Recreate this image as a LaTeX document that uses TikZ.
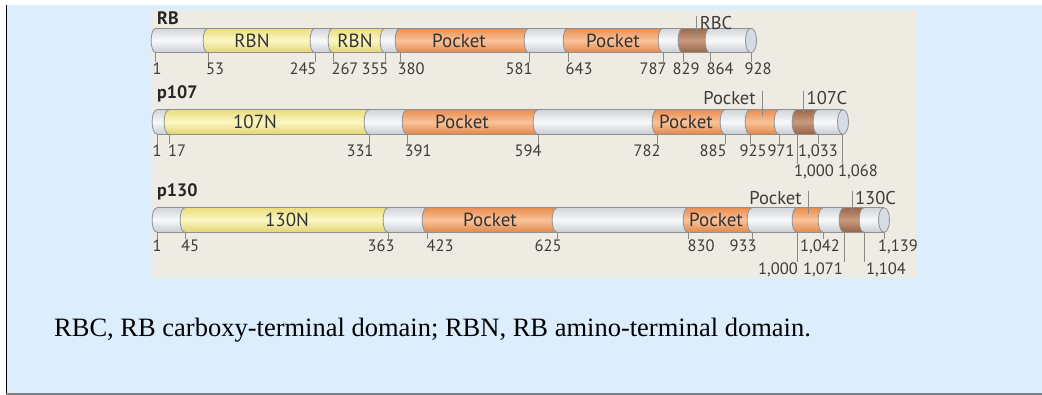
\documentclass[tikz,border=0pt]{standalone}
\usepackage{fontspec}
\setmainfont{Liberation Serif}
\newfontfamily\ptsans{PT Sans}
\definecolor{bgblue}{HTML}{DCEDFD}
\definecolor{beige}{HTML}{EEEBE3}
\definecolor{bordc}{HTML}{8E9094}
\definecolor{tickc}{HTML}{8A8A8A}
\definecolor{numc}{HTML}{3C3C3C}
\definecolor{dlabc}{HTML}{333333}
\definecolor{capc}{HTML}{D5DCE4}
\definecolor{wT}{HTML}{D2D5D9}\definecolor{wM}{HTML}{F8F9FA}\definecolor{wB}{HTML}{C8CCD1}
\definecolor{yT}{HTML}{EADD7C}\definecolor{yM}{HTML}{FCF7C4}\definecolor{yB}{HTML}{E2D372}
\definecolor{oT}{HTML}{EA8E50}\definecolor{oM}{HTML}{F9C29A}\definecolor{oB}{HTML}{E2884A}
\definecolor{bT}{HTML}{9E684A}\definecolor{bM}{HTML}{C99A7E}\definecolor{bB}{HTML}{966244}
\newcommand{\seg}[4]{%
  \path[#1] (#2,#4-12.25) .. controls (#2-6.5,#4-12.25) and (#2-6.5,#4+12.25) .. (#2,#4+12.25) -- (#3,#4+12.25) -- (#3,#4-12.25) -- cycle;
  \draw[outl] (#2,#4-12.25) .. controls (#2-6.5,#4-12.25) and (#2-6.5,#4+12.25) .. (#2,#4+12.25);}
\newcommand{\cylends}[3]{%
  \draw[outl] (#1,#3-12.25) -- (#2,#3-12.25);
  \draw[outl] (#1,#3+12.25) -- (#2,#3+12.25);
  \draw[outl, fill=capc] (#2,#3) ellipse [x radius=5.5, y radius=12.25];}
% name, tick x, label x, baseline, bar bottom, text
\newcommand{\nlab}[6]{%
  \node[num] (#1) at (#3,#4) {#6};
  \draw[tick] (#2,#5) -- (#2,0 |- #1.north);}
\begin{document}
\begin{tikzpicture}[x=1pt,y=-1pt,
  outl/.style={draw=bordc, line width=0.8pt},
  tick/.style={draw=tickc, line width=0.7pt},
  segW/.style={top color=wT, bottom color=wB, middle color=wM},
  segY/.style={top color=yT, bottom color=yB, middle color=yM},
  segO/.style={top color=oT, bottom color=oB, middle color=oM},
  segB/.style={top color=bT, bottom color=bB, middle color=bM},
  num/.style={font=\ptsans\fontsize{16.5}{19}\selectfont, text=numc, inner sep=1pt, anchor=base},
  dlab/.style={font=\ptsans\fontsize{19}{21}\selectfont, text=dlabc, inner sep=0pt, anchor=base},
  uplab/.style={font=\ptsans\fontsize{18.5}{21}\selectfont, text=numc, inner sep=1pt, anchor=base},
  rowlab/.style={font=\ptsans\bfseries\fontsize{18}{20}\selectfont, text=black!85, inner sep=0pt, anchor=base west},
]
\useasboundingbox (0,0) rectangle (1042,395);
% frame
\fill[white] (0,0) rectangle (1042,395);
\fill[bgblue] (6,5) rectangle (1042,395);
\draw[black, line width=1.3pt] (6.4,5) -- (6.4,395);
\draw[black!50, line width=1.5pt] (6,394.2) -- (1042,394.2);
\fill[beige] (152,10) rectangle (918,278);

% ---------------- RB ----------------
\node[rowlab] (rbname) at (157,25) {RB};
\seg{segW}{156}{208}{40.5}
\seg{segY}{208}{315}{40.5}
\seg{segW}{315}{333}{40.5}
\seg{segY}{333}{385}{40.5}
\seg{segW}{385}{400}{40.5}
\seg{segO}{400}{529}{40.5}
\seg{segW}{529}{568}{40.5}
\seg{segO}{568}{663}{40.5}
\seg{segW}{663}{683}{40.5}
\seg{segB}{683}{710}{40.5}
\seg{segW}{710}{751}{40.5}
\cylends{156}{751}{40.5}
\node[dlab] (rbn1) at (252,47.5) {RBN};
\node[dlab] (rbn2) at (355,47.5) {RBN};
\node[dlab] (rbp1) at (459,47.5) {Pocket};
\node[dlab] (rbp2) at (613,47.5) {Pocket};
\node[uplab] (rbc) at (716,30) {RBC};
\draw[tick] (696,0 |- rbc.north) -- (696,37);
\nlab{a1}{155}{157}{75}{52.75}{1}
\nlab{a2}{208}{215}{75}{52.75}{53}
\nlab{a3}{315}{303}{75}{52.75}{245}
\nlab{a4}{333}{345}{75}{52.75}{267}
\nlab{a5}{385}{375}{75}{52.75}{355}
\nlab{a6}{400}{411}{75}{52.75}{380}
\nlab{a7}{529}{519}{75}{52.75}{581}
\nlab{a8}{568}{579}{75}{52.75}{643}
\nlab{a9}{663}{653}{75}{52.75}{787}
\nlab{a10}{683}{686}{75}{52.75}{829}
\nlab{a11}{710}{720}{75}{52.75}{864}
\nlab{a12}{751}{758}{75}{52.75}{928}

% ---------------- p107 ----------------
\node[rowlab] (p107name) at (157,99) {p107};
\seg{segW}{157}{169}{122}
\seg{segY}{169}{369}{122}
\seg{segW}{369}{407}{122}
\seg{segO}{407}{538}{122}
\seg{segW}{538}{657}{122}
\seg{segO}{657}{725}{122}
\seg{segW}{725}{750}{122}
\seg{segO}{750}{779}{122}
\seg{segW}{779}{797}{122}
\seg{segB}{797}{818}{122}
\seg{segW}{818}{843}{122}
\cylends{157}{843}{122}
\node[dlab] (n107) at (255,129) {107N};
\node[dlab] (bp1) at (462,129) {Pocket};
\node[dlab] (bp2) at (686,129) {Pocket};
\node[uplab] (bp3) at (729.5,105) {Pocket};
\draw[tick] (762,0 |- bp3.north) -- (762,116);
\node[uplab] (c107) at (827,105) {107C};
\draw[tick] (803,0 |- c107.north) -- (803,118);
\nlab{b1}{157}{157}{157}{134.25}{1}
\nlab{b2}{169}{177}{157}{134.25}{17}
\nlab{b3}{369}{360}{157}{134.25}{331}
\nlab{b4}{407}{418}{157}{134.25}{391}
\nlab{b5}{538}{528}{157}{134.25}{594}
\nlab{b6}{657}{647}{157}{134.25}{782}
\nlab{b7}{725}{713}{157}{134.25}{885}
\nlab{b8}{750}{753}{157}{134.25}{925}
\nlab{b9}{779}{781}{157}{134.25}{971}
\nlab{b10}{818}{818}{157}{134.25}{1,033}
\nlab{b11}{797}{814}{177}{134.25}{1,000}
\nlab{b12}{842}{858}{177}{134.25}{1,068}

% ---------------- p130 ----------------
\node[rowlab] (p130name) at (157,197) {p130};
\seg{segW}{157}{185}{220}
\seg{segY}{185}{388}{220}
\seg{segW}{388}{427}{220}
\seg{segO}{427}{557}{220}
\seg{segW}{557}{688}{220}
\seg{segO}{688}{752}{220}
\seg{segW}{752}{797}{220}
\seg{segO}{797}{823}{220}
\seg{segW}{823}{844}{220}
\seg{segB}{844}{864}{220}
\seg{segW}{864}{884}{220}
\cylends{157}{884}{220}
\node[dlab] (n130) at (287,227) {130N};
\node[dlab] (cp1) at (490,227) {Pocket};
\node[dlab] (cp2) at (716,227) {Pocket};
\node[uplab] (cp3) at (775.5,205) {Pocket};
\draw[tick] (808,0 |- cp3.north) -- (808,214);
\node[uplab] (c130) at (875.5,205) {130C};
\draw[tick] (852,0 |- c130.north) -- (852,214);
\nlab{c1}{157}{157}{252}{232.25}{1}
\nlab{c2}{185}{190}{252}{232.25}{45}
\nlab{c3}{388}{381}{252}{232.25}{363}
\nlab{c4}{427}{440}{252}{232.25}{423}
\nlab{c5}{557}{548}{252}{232.25}{625}
\nlab{c6}{688}{701}{252}{232.25}{830}
\nlab{c7}{752}{743}{252}{232.25}{933}
\nlab{c8}{823}{820}{252}{232.25}{1,042}
\nlab{c9}{884}{898}{252}{232.25}{1,139}
\nlab{c10}{797}{778}{275}{232.25}{1,000}
\nlab{c11}{844}{823}{275}{232.25}{1,071}
\nlab{c12}{864}{886}{275}{232.25}{1,104}

% caption
\node[anchor=base west, inner sep=0pt, font=\fontsize{26.5}{30}\selectfont] (caption) at (54,337)
  {RBC, RB carboxy-terminal domain; RBN, RB amino-terminal domain.};
\end{tikzpicture}
\end{document}
